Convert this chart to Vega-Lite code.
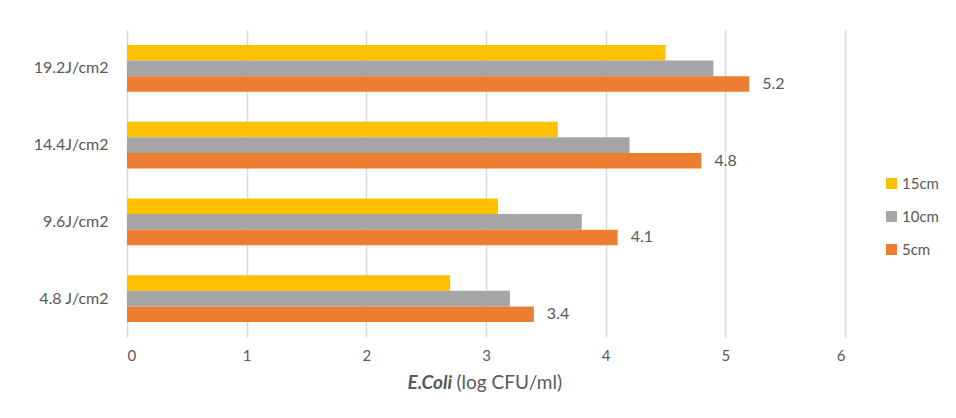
{
  "$schema": "https://vega.github.io/schema/vega-lite/v6.json",
  "width": 718,
  "height": 307,
  "autosize": {"type": "none"},
  "padding": {"left": 127, "top": 30, "right": 111, "bottom": 81},
  "background": "white",
  "config": {
    "view": {"stroke": null},
    "font": "Lato",
    "axis": {"labelColor": "#595959", "titleColor": "#595959", "domain": false, "ticks": false},
    "legend": {"labelColor": "#595959"}
  },
  "data": {
    "values": [
      {"dose": "19.2J/cm2", "distance": "15cm", "value": 4.5},
      {"dose": "19.2J/cm2", "distance": "10cm", "value": 4.9},
      {"dose": "19.2J/cm2", "distance": "5cm", "value": 5.2},
      {"dose": "14.4J/cm2", "distance": "15cm", "value": 3.6},
      {"dose": "14.4J/cm2", "distance": "10cm", "value": 4.2},
      {"dose": "14.4J/cm2", "distance": "5cm", "value": 4.8},
      {"dose": "9.6J/cm2", "distance": "15cm", "value": 3.1},
      {"dose": "9.6J/cm2", "distance": "10cm", "value": 3.8},
      {"dose": "9.6J/cm2", "distance": "5cm", "value": 4.1},
      {"dose": "4.8 J/cm2", "distance": "15cm", "value": 2.7},
      {"dose": "4.8 J/cm2", "distance": "10cm", "value": 3.2},
      {"dose": "4.8 J/cm2", "distance": "5cm", "value": 3.4}
    ]
  },
  "encoding": {
    "y": {
      "field": "dose",
      "type": "nominal",
      "sort": ["19.2J/cm2", "14.4J/cm2", "9.6J/cm2", "4.8 J/cm2"],
      "scale": {"paddingInner": 0.39, "paddingOuter": 0.195},
      "axis": {"title": null, "labelFontSize": 16, "labelPadding": 19}
    },
    "yOffset": {
      "field": "distance",
      "type": "nominal",
      "sort": ["15cm", "10cm", "5cm"],
      "scale": {"paddingInner": 0, "paddingOuter": 0}
    }
  },
  "layer": [
    {
      "mark": {"type": "bar"},
      "encoding": {
        "x": {
          "field": "value",
          "type": "quantitative",
          "scale": {"domain": [0, 6], "nice": false},
          "axis": {
            "orient": "bottom",
            "values": [0, 1, 2, 3, 4, 5, 6],
            "grid": true,
            "gridColor": "#D9D9D9",
            "gridWidth": 1.5,
            "labelFontSize": 15,
            "labelPadding": 11,
            "title": "E.Coli",
            "titleFontSize": 19,
            "titleFontWeight": "bold",
            "titleFontStyle": "italic",
            "titleAnchor": "start",
            "titleAlign": "left",
            "titleX": 280,
            "titleY": 45,
            "titleBaseline": "middle"
          }
        },
        "color": {
          "field": "distance",
          "type": "nominal",
          "scale": {"domain": ["15cm", "10cm", "5cm"], "range": ["#FFC000", "#A5A5A5", "#ED7D31"]},
          "legend": {
            "title": null,
            "orient": "none",
            "legendX": 757,
            "legendY": 146,
            "symbolType": "square",
            "symbolSize": 121,
            "symbolStrokeWidth": 0,
            "labelFontSize": 15,
            "labelOffset": 3,
            "rowPadding": 17,
            "padding": 0
          }
        }
      }
    },
    {
      "transform": [{"filter": "datum.distance === '5cm'"}],
      "mark": {"type": "text", "align": "left", "baseline": "middle", "dx": 13, "fontSize": 16, "color": "#595959"},
      "encoding": {
        "x": {
          "field": "value",
          "type": "quantitative",
          "axis": {
            "orient": "bottom",
            "labels": false,
            "grid": false,
            "title": "(log CFU/ml)",
            "titleFontSize": 19,
            "titleFontWeight": "normal",
            "titleAnchor": "start",
            "titleAlign": "left",
            "titleX": 329,
            "titleY": 45,
            "titleBaseline": "middle"
          }
        },
        "text": {"field": "value", "type": "quantitative", "format": ".1f"}
      }
    }
  ],
  "resolve": {"axis": {"x": "independent"}}
}
